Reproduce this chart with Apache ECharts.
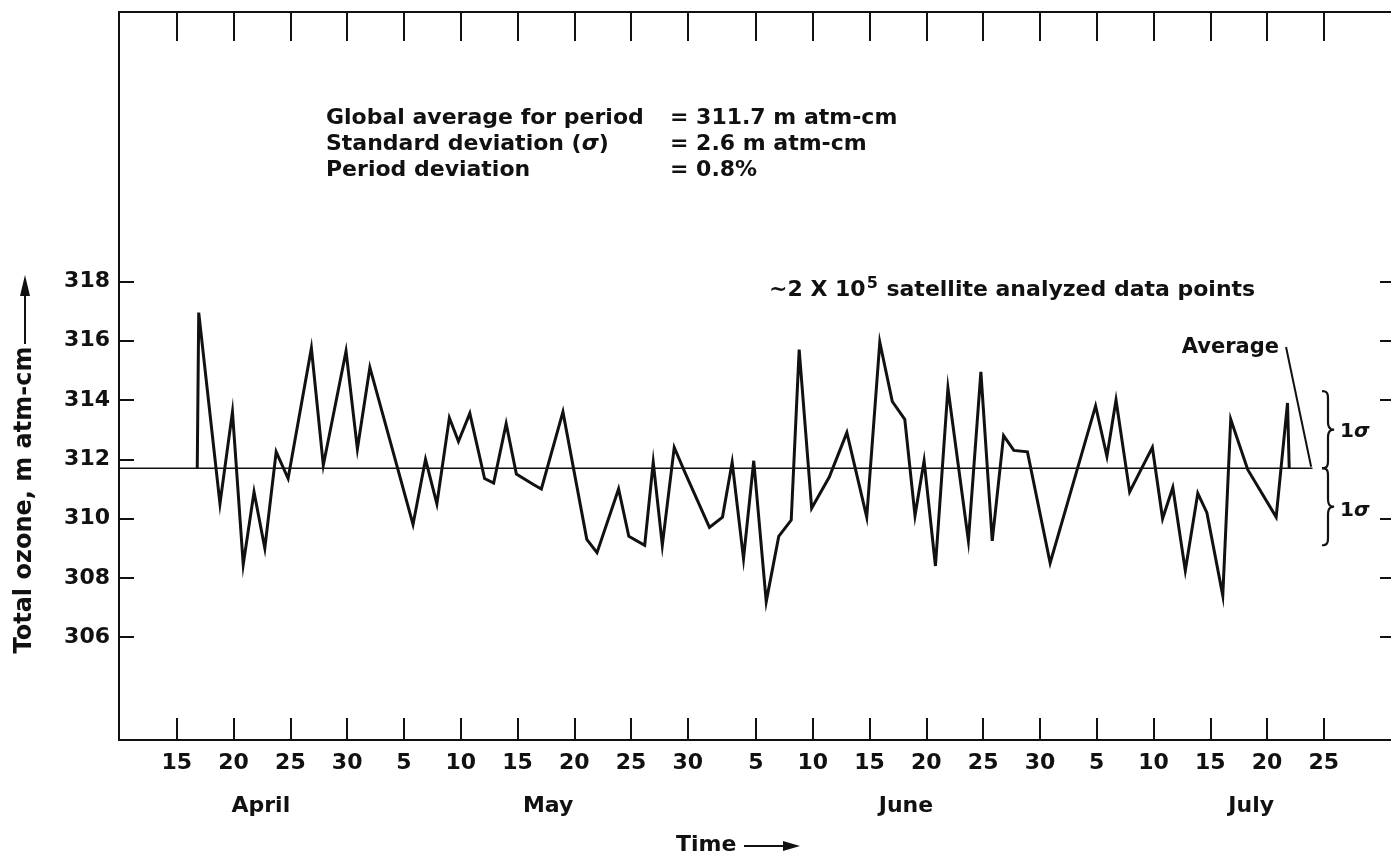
<!DOCTYPE html>
<html>
<head>
<meta charset="utf-8">
<script src="https://cdn.jsdelivr.net/npm/echarts@6/dist/echarts.min.js"></script>
<style>
  html, body { margin: 0; padding: 0; background: #fff; }
  #chart { width: 1391px; height: 858px; }
</style>
</head>
<body>
<div id="chart"></div>
<script>
// Time axis: days counted from 15 April
const dayTicks = [0, 5, 10, 15, 20, 25, 30, 35, 40, 45, 51, 56, 61, 66, 71, 76, 81, 86, 91, 96, 101];
const dayTickLabels = ['15', '20', '25', '30', '5', '10', '15', '20', '25', '30', '5', '10', '15', '20', '25', '30', '5', '10', '15', '20', '25'];
const months = ['April', 'May', 'June', 'July'];
const monthCenters = [7.4, 32.7, 64.2, 94.6];

// Ozone axis ticks (m atm-cm)
const ozoneTicks = [306, 308, 310, 312, 314, 316, 318];
const rightTicks = [306, 308, 310, 314, 316, 318];

// Global daily mean total ozone
const days = [1.8, 1.93, 3.8, 4.9, 5.85, 6.8, 7.75, 8.75, 9.8, 11.85, 12.9, 14.9, 15.9, 17.0,
  20.8, 21.9, 22.9, 24.0, 24.8, 25.8, 27.1, 27.9, 29.0, 29.9, 31.4, 32.1, 34.0,
  36.1, 37.0, 38.9, 39.8, 41.2, 41.95, 42.75, 43.8, 44.75, 46.9, 48.05, 48.9, 49.9, 50.8,
  51.9, 53.0, 54.1, 54.8, 55.9, 57.45, 59.0, 60.75, 61.9, 63.0, 64.1, 65.0, 65.8, 66.8,
  67.9, 69.7, 70.8, 71.8, 72.8, 73.7, 74.9, 76.9, 80.9, 81.9, 82.7, 83.9, 85.9, 86.8,
  87.7, 88.8, 89.9, 90.7, 92.1, 92.8, 94.3, 96.8, 97.8, 97.95];
const ozone = [311.7, 316.95, 310.5, 313.6, 308.45, 310.9, 309.0, 312.25, 311.35, 315.75, 311.8, 315.65, 312.35, 315.1,
  309.8, 312.0, 310.5, 313.4, 312.6, 313.55, 311.35, 311.2, 313.2, 311.5, 311.15, 311.0, 313.6,
  309.3, 308.85, 311.0, 309.4, 309.1, 311.9, 309.1, 312.4, 311.55, 309.7, 310.05, 311.9, 308.65, 311.95,
  307.2, 309.4, 309.95, 315.7, 310.35, 311.4, 312.9, 310.05, 315.95, 313.95, 313.35, 310.1, 311.95, 308.4,
  314.4, 309.25, 314.95, 309.25, 312.8, 312.3, 312.25, 308.5, 313.8, 312.1, 314.0, 310.9, 312.4, 310.0,
  311.05, 308.25, 310.85, 310.2, 307.4, 313.35, 311.65, 310.05, 313.9, 311.7];

// Period statistics
const average = 311.7;
const sigma = 2.6;
const periodDeviation = '0.8%';
const averageEnd = 100.0;   // 24 July

const X_MIN = -5.09, X_MAX = 107.0;
const Y_MIN = 302.53, Y_MAX = 327.09;
const INK = '#111';
const FONT = '"DejaVu Sans", "Liberation Sans", Arial, sans-serif';
const TEXT_FONT = 'bold 22px ' + FONT;
const TICK_SIZE = 22;

const chart = echarts.init(document.getElementById('chart'), null, { renderer: 'canvas' });

const noSplit = { splitLine: { show: false }, splitArea: { show: false } };
const tickLabelStyle = { color: INK, fontSize: TICK_SIZE, fontFamily: FONT, fontWeight: 'bold' };

chart.setOption({
  animation: false,
  backgroundColor: '#fff',
  grid: { left: 119, top: 12, width: 1273, height: 728, containLabel: false, outerBoundsMode: 'none' },
  xAxis: [
    Object.assign({
      type: 'value', position: 'bottom', min: X_MIN, max: X_MAX,
      axisLine: { show: true, onZero: false, lineStyle: { color: INK, width: 2 } },
      axisTick: { show: true, inside: true, length: 22, customValues: dayTicks, lineStyle: { color: INK, width: 2 } },
      axisLabel: Object.assign({
        show: true, customValues: dayTicks, margin: 12,
        formatter: v => dayTickLabels[dayTicks.indexOf(v)]
      }, tickLabelStyle)
    }, noSplit),
    Object.assign({
      type: 'value', position: 'top', min: X_MIN, max: X_MAX,
      axisLine: { show: true, onZero: false, lineStyle: { color: INK, width: 2 } },
      axisTick: { show: true, inside: true, length: 29, customValues: dayTicks, lineStyle: { color: INK, width: 2 } },
      axisLabel: { show: false }
    }, noSplit),
    Object.assign({
      type: 'value', position: 'bottom', min: X_MIN, max: X_MAX,
      axisLine: { show: false }, axisTick: { show: false },
      axisLabel: Object.assign({
        show: true, customValues: monthCenters, margin: 55,
        formatter: v => months[monthCenters.indexOf(v)]
      }, tickLabelStyle)
    }, noSplit)
  ],
  yAxis: [
    Object.assign({
      type: 'value', position: 'left', min: Y_MIN, max: Y_MAX,
      axisLine: { show: true, onZero: false, lineStyle: { color: INK, width: 2 } },
      axisTick: { show: true, inside: true, length: 15, customValues: ozoneTicks, lineStyle: { color: INK, width: 2 } },
      axisLabel: Object.assign({ show: true, customValues: ozoneTicks, margin: 9 }, tickLabelStyle)
    }, noSplit),
    Object.assign({
      type: 'value', position: 'right', min: Y_MIN, max: Y_MAX,
      axisLine: { show: true, onZero: false, lineStyle: { color: INK, width: 2 } },
      axisTick: { show: true, inside: true, length: 12, customValues: rightTicks, lineStyle: { color: INK, width: 2 } },
      axisLabel: { show: false }
    }, noSplit)
  ],
  series: [
    {
      name: 'Average', type: 'line', xAxisIndex: 0, yAxisIndex: 0,
      data: [[X_MIN, average], [averageEnd, average]],
      symbol: 'none', silent: true,
      lineStyle: { color: INK, width: 1.6 }
    },
    {
      name: 'Total ozone', type: 'line', xAxisIndex: 0, yAxisIndex: 0,
      data: days.map((d, i) => [d, ozone[i]]),
      symbol: 'none', silent: true,
      lineStyle: { color: INK, width: 3, join: 'miter' }
    }
  ]
});

// Annotations anchored to the data scales
const px = (d, v) => chart.convertToPixel({ xAxisIndex: 0, yAxisIndex: 0 }, [d, v]);

// Curly brace as a sampled polyline (cubic segments)
function cubic(p0, p1, p2, p3, n) {
  const out = [];
  for (let i = 0; i <= n; i++) {
    const t = i / n, u = 1 - t;
    out.push([
      u * u * u * p0[0] + 3 * u * u * t * p1[0] + 3 * u * t * t * p2[0] + t * t * t * p3[0],
      u * u * u * p0[1] + 3 * u * u * t * p1[1] + 3 * u * t * t * p2[1] + t * t * t * p3[1]
    ]);
  }
  return out;
}
function bracePoints(x, yTop, yBot) {
  const ym = (yTop + yBot) / 2, w = 6, tip = 12;
  return [].concat(
    cubic([x, yTop], [x + w, yTop], [x + w, yTop + 3], [x + w, yTop + 10], 8),
    [[x + w, ym - 8]],
    cubic([x + w, ym - 8], [x + w, ym - 2], [x + w + 2, ym], [x + tip, ym], 6),
    cubic([x + tip, ym], [x + w + 2, ym], [x + w, ym + 2], [x + w, ym + 8], 6),
    [[x + w, yBot - 10]],
    cubic([x + w, yBot - 10], [x + w, yBot - 3], [x + w, yBot], [x, yBot], 8)
  );
}

const yHi = px(0, average + sigma)[1];
const yAvg = px(0, average)[1];
const yLo = px(0, average - sigma)[1];
const braceX = 1322;
const ptrStart = px(97.67, 315.79);
const ptrEnd = px(averageEnd - 0.12, average + 0.05);

const richText = {
  a: { font: TEXT_FONT, fill: INK },
  i: { font: 'italic bold 22px ' + FONT, fill: INK },
  s: { font: 'bold 16px ' + FONT, fill: INK, verticalAlign: 'top', padding: [0, 1, 12, 1] }
};
const label = (text, x, y, extra) => ({
  type: 'text', x: x, y: y, silent: true,
  style: Object.assign({ text: text, fill: INK, font: TEXT_FONT, textVerticalAlign: 'middle', rich: richText }, extra || {})
});
const sigmaRich = {
  o: { font: 'bold 20px ' + FONT, fill: INK },
  g: { font: 'italic bold 20px ' + FONT, fill: INK }
};

const col1 = 326, col2 = 670, row0 = 118, rowGap = 26;

chart.setOption({
  graphic: [
    // statistics block
    label('{a|Global average for period}', col1, row0),
    label('{a|Standard deviation (}{i|\u03c3}{a|)}', col1, row0 + rowGap),
    label('{a|Period deviation}', col1, row0 + 2 * rowGap),
    label('{a|= ' + average.toFixed(1) + ' m atm-cm}', col2, row0),
    label('{a|= ' + sigma.toFixed(1) + ' m atm-cm}', col2, row0 + rowGap),
    label('{a|= ' + periodDeviation + '}', col2, row0 + 2 * rowGap),
    label('{a|~2 X 10}{s|5}{a| satellite analyzed data points}', 769, 290),
    // Average pointer
    label('Average', 1279, 348, { textAlign: 'right', font: 'bold 21px ' + FONT, rich: null }),
    {
      type: 'line', silent: true,
      shape: { x1: ptrStart[0], y1: ptrStart[1], x2: ptrEnd[0], y2: ptrEnd[1] },
      style: { stroke: INK, lineWidth: 2 }
    },
    // one-sigma braces
    {
      type: 'polyline', silent: true,
      shape: { points: bracePoints(braceX, yHi, yAvg) },
      style: { stroke: INK, lineWidth: 2.2, fill: null }
    },
    {
      type: 'polyline', silent: true,
      shape: { points: bracePoints(braceX, yAvg, yLo) },
      style: { stroke: INK, lineWidth: 2.2, fill: null }
    },
    label('{o|1}{g|\u03c3}', 1340, 432, { rich: sigmaRich }),
    label('{o|1}{g|\u03c3}', 1340, 511, { rich: sigmaRich }),
    // axis titles
    {
      type: 'text', x: 25, y: 500, rotation: Math.PI / 2, silent: true,
      style: { text: 'Total ozone, m atm-cm', fill: INK, font: 'bold 24px ' + FONT, textAlign: 'center', textVerticalAlign: 'middle' }
    },
    {
      type: 'line', silent: true,
      shape: { x1: 25, y1: 344, x2: 25, y2: 290 },
      style: { stroke: INK, lineWidth: 2 }
    },
    {
      type: 'polygon', silent: true,
      shape: { points: [[25, 275], [20, 296], [30, 296]] },
      style: { fill: INK }
    },
    label('Time', 676, 845, { rich: null }),
    {
      type: 'line', silent: true,
      shape: { x1: 744, y1: 846, x2: 786, y2: 846 },
      style: { stroke: INK, lineWidth: 2 }
    },
    {
      type: 'polygon', silent: true,
      shape: { points: [[800, 846], [783, 841], [783, 851]] },
      style: { fill: INK }
    }
  ]
});
</script>
</body>
</html>
